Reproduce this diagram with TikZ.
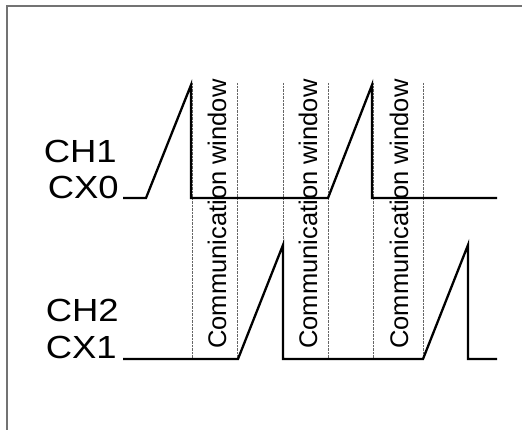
\documentclass[tikz,border=0pt]{standalone}
\usepackage{fontspec}
\setmainfont{Liberation Sans}
\begin{document}
\begin{tikzpicture}[x=1pt,y=-1pt,
  signal/.style={line width=2.3pt, line join=miter},
  guide/.style={black!60, line width=0.7pt, dash pattern=on 0.7pt off 0.7pt},
  frame/.style={black!55, line width=2pt},
  lbl/.style={font=\fontsize{32}{36}\selectfont, anchor=base east, inner sep=0pt, xscale=1.14},
  win/.style={rotate=90, font=\fontsize{25.5}{30}\selectfont, inner sep=0pt}]
\useasboundingbox (0,0) rectangle (522,430);
% outer frame (only top and left edges fall inside the page)
\draw[frame] (6.5,432) -- (6.5,6.5) -- (524,6.5);

% window boundaries
\foreach \x in {192,237,283,328,373,423}
  \draw[guide] (\x,83) -- (\x,359);

% channel labels
\node[lbl] (ch1) at (117,163) {CH1};
\node[lbl] (cx0) at (119,199) {CX0};
\node[lbl] (ch2) at (119,322) {CH2};
\node[lbl] (cx1) at (117,358) {CX1};

% waveforms
\draw[signal] (123,198) -- (146,198) -- (191,85) -- (191,198) -- (328,198)
  -- (372,85) -- (372,198) -- (497,198);
\draw[signal] (123,359) -- (238,359) -- (283,245) -- (283,359) -- (423,359)
  -- (468,245) -- (468,359) -- (497,359);

% communication windows
\node[win] (w1) at (217,214) {Communication window};
\node[win] (w2) at (308,214) {Communication window};
\node[win] (w3) at (399,214) {Communication window};
\end{tikzpicture}
\end{document}
